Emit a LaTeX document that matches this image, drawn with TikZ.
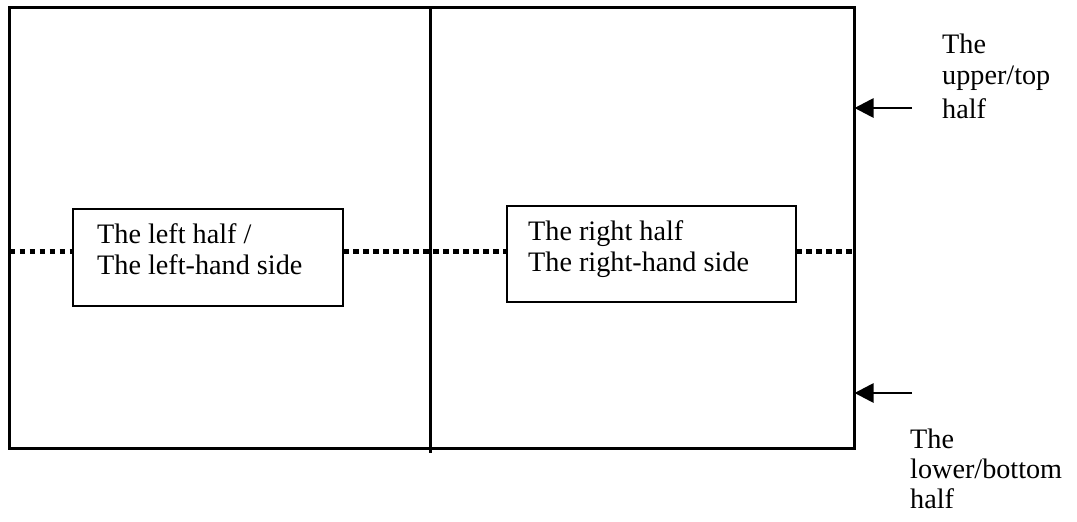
\documentclass[tikz,border=0pt]{standalone}
\usepackage{fontspec}
\setmainfont{Liberation Serif}
\usetikzlibrary{arrows.meta}
\tikzset{
  frame/.style={draw, line width=3.2pt, inner sep=0pt, outer sep=0pt, anchor=north west},
  labelbox/.style={draw, line width=2.5pt, inner sep=0pt, outer sep=0pt, anchor=north west},
  txt/.style={anchor=north west, inner sep=0pt, align=left, font=\fontsize{28.2}{31}\selectfont},
  dotline/.style={line width=5pt, dash pattern=on 5.5pt off 4.5pt},
  pointer/.style={line width=2.8pt, -{Triangle[length=19pt,width=19pt]}},
}
\begin{document}
\begin{tikzpicture}[x=1pt,y=-1pt]
\useasboundingbox (0,0) rectangle (1077,522);
% outer frame
\node[frame, minimum width=845pt, minimum height=441pt] (outer) at (9.5,7.5) {};
% vertical divider
\coordinate (vtop) at (430,8);
\coordinate (vbot) at (430,453);
\draw[line width=3pt] (vtop) -- (vbot);
% boxes
\node[labelbox, minimum width=270pt, minimum height=97pt] (lbox) at (73,209) {};
\node[labelbox, minimum width=289pt, minimum height=96pt] (rbox) at (507,206) {};
\node[txt] (ltxt) at (97,223.7) {The left half /\\The left-hand side};
\node[txt] (rtxt) at (528,220.7) {The right half\\The right-hand side};
% dotted middle line
\coordinate (mid) at (0,251);
\draw[dotline] (outer.west |- mid) -- (lbox.west |- mid);
\draw[dotline] (lbox.east |- mid) -- (rbox.west |- mid);
\draw[dotline] (rbox.east |- mid) -- (outer.east |- mid);
% arrows
\coordinate (ua) at (912,108);
\coordinate (la) at (912,393);
\draw[pointer] (ua) -- (outer.east |- ua);
\draw[pointer] (la) -- (outer.east |- la);
% side labels
\node[txt] (utxt) at (942,33.7) {The\\upper/top\\[3pt]half};
\node[txt, font=\fontsize{28.2}{30}\selectfont] (btxt) at (910,428.7) {The\\lower/bottom\\half};
\end{tikzpicture}
\end{document}
